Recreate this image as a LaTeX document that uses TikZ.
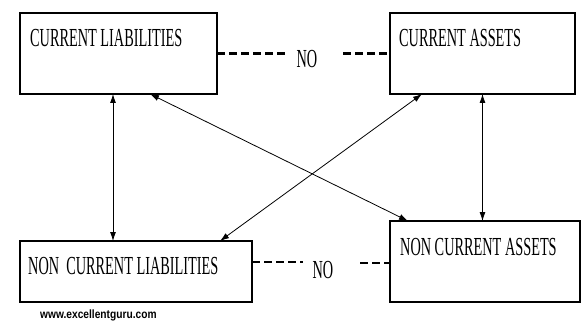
\documentclass[tikz,border=0pt]{standalone}
\usepackage{fontspec}
\usepackage{tikz}
\usetikzlibrary{arrows.meta, positioning, calc}

\newfontfamily\boxfont[FakeStretch=0.55]{Liberation Serif}
\newfontfamily\markfont[FakeStretch=0.85]{Liberation Sans}

\begin{document}
\begin{tikzpicture}[
  x=1pt, y=-1pt,
  accbox/.style={draw=black, line width=1.4pt, inner sep=0pt, outer sep=0pt},
  acctext/.style={anchor=west, inner sep=0pt, font=\boxfont\fontsize{26}{26}\selectfont},
  notext/.style={inner sep=0pt, font=\boxfont\fontsize{26}{26}\selectfont},
  link/.style={{Latex[length=9pt,width=6pt]}-{Latex[length=9pt,width=6pt]}, line width=0.8pt},
  nolink/.style={line width=2.4pt, dash pattern=on 8pt off 4pt},
]
\useasboundingbox (0,0) rectangle (582,329);

% --- the four boxes ---
\node[accbox, minimum width=197pt, minimum height=81pt] (cl) at (118.5,53.5) {};
\node[accbox, minimum width=185pt, minimum height=81pt] (ca) at (482.5,53.5) {};
\node[accbox, minimum width=232pt, minimum height=61pt] (ncl) at (136,271.5) {};
\node[accbox, minimum width=190pt, minimum height=81pt] (nca) at (485,261.5) {};

\node[acctext] (cltext) at (30,38) {CURRENT LIABILITIES};
\node[acctext] (catext) at (399,38) {CURRENT ASSETS};
\node[acctext] (ncltext) at (28,266.5) {NON\ \ CURRENT LIABILITIES};
\node[acctext] (ncatext) at (400,247.5) {NON CURRENT ASSETS};

% --- no links ---
\node[notext] (notop) at (307,59) {NO};
\node[notext] (nobot) at (323,270) {NO};
\coordinate (topa) at (285,53.5);
\coordinate (topb) at (343,53.5);
\coordinate (bota) at (303,262);
\coordinate (botb) at (360,263);
\draw[nolink] (cl.east) -- (topa);
\draw[nolink] (topb) -- (ca.west);
\draw[nolink, line width=2pt] (ncl.east |- bota) -- (bota);
\draw[nolink, line width=2pt] (botb) -- (nca.west |- botb);

% --- arrows ---
\draw[link] ([xshift=93pt]cl.south west) -- ([xshift=93pt]ncl.north west);
\draw[link] (ca.south) -- (ca.south |- nca.north);
\draw[link] ([xshift=130pt]cl.south west) -- ([xshift=18pt]nca.north west);
\draw[link] ([xshift=32pt]ca.south west) -- ([xshift=200pt]ncl.north west);

\node[anchor=west, inner sep=0pt, font=\markfont\bfseries\fontsize{12}{12}\selectfont] (mark) at (40,315) {www.excellentguru.com};

\end{tikzpicture}
\end{document}
